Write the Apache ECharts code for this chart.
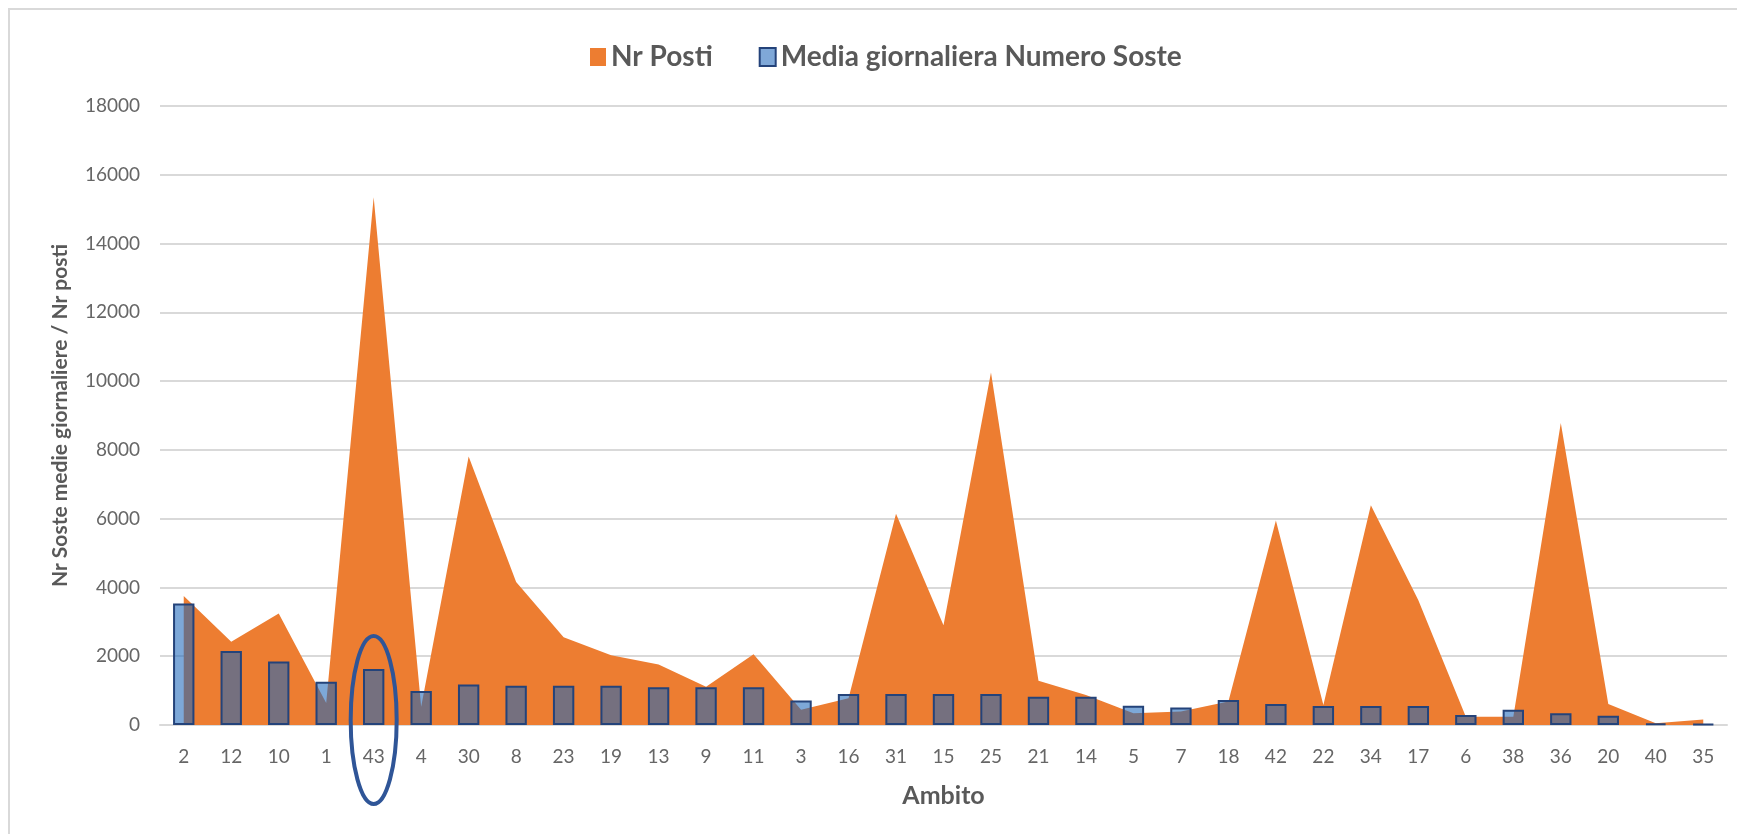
<!DOCTYPE html>
<html>
<head>
<meta charset="utf-8">
<script src="https://cdn.jsdelivr.net/npm/echarts@6/dist/echarts.min.js"></script>
<style>
html,body{margin:0;padding:0;background:#fff;}
#chart{width:1737px;height:834px;}
</style>
</head>
<body>
<div id="chart"></div>
<script>
var categories = ['2','12','10','1','43','4','30','8','23','19','13','9','11','3','16','31','15','25','21','14','5','7','18','42','22','34','17','6','38','36','20','40','35'];
var nrPosti = [3750, 2420, 3240, 640, 15350, 530, 7810, 4160, 2550, 2030, 1760, 1110, 2060, 440, 780, 6140, 2900, 10250, 1290, 870, 340, 390, 680, 5950, 580, 6390, 3630, 240, 240, 8780, 610, 50, 160];
var mediaSoste = [3530, 2150, 1850, 1260, 1625, 990, 1180, 1140, 1140, 1140, 1100, 1100, 1100, 710, 900, 900, 900, 900, 820, 820, 560, 510, 730, 610, 550, 550, 550, 290, 440, 340, 270, 50, 30];
var yTicks = [0, 2000, 4000, 6000, 8000, 10000, 12000, 14000, 16000, 18000];
var highlighted = '43';

var FONT = 'Lato, "Open Sans", "Liberation Sans", sans-serif';
var chart = echarts.init(document.getElementById('chart'), null, {renderer: 'canvas'});

var option = {
  backgroundColor: '#ffffff',
  animation: false,
  textStyle: {fontFamily: FONT},
  legend: {
    top: 38,
    left: 585,
    itemGap: 46,
    itemWidth: 16,
    itemHeight: 18,
    textStyle: {fontFamily: FONT, fontSize: 28, fontWeight: 'bold', color: '#595959'},
    data: [
      {name: 'Nr Posti', icon: 'rect', itemStyle: {color: '#ED7D31'}},
      {name: 'Media giornaliera Numero Soste', icon: 'rect', itemStyle: {color: '#7FA8D8', borderColor: '#24437A', borderWidth: 2}}
    ]
  },
  grid: {left: 160, right: 10, top: 106, bottom: 109, containLabel: false},
  xAxis: {
    type: 'category',
    data: categories,
    boundaryGap: true,
    name: 'Ambito',
    nameLocation: 'middle',
    nameGap: 58,
    nameTextStyle: {fontFamily: FONT, fontSize: 25, fontWeight: 'bold', color: '#595959'},
    axisLine: {show: true, lineStyle: {color: '#D9D9D9', width: 2}},
    axisTick: {show: false},
    axisLabel: {fontFamily: FONT, fontSize: 19, color: '#666666', margin: 22, interval: 0}
  },
  yAxis: {
    type: 'value',
    min: yTicks[0],
    max: yTicks[yTicks.length - 1],
    interval: yTicks[1] - yTicks[0],
    name: 'Nr Soste medie giornaliere / Nr posti',
    nameLocation: 'middle',
    nameGap: 89,
    nameTextStyle: {fontFamily: FONT, fontSize: 21, fontWeight: 'bold', color: '#595959'},
    axisLine: {show: false},
    axisTick: {show: false},
    axisLabel: {fontFamily: FONT, fontSize: 19, color: '#666666', margin: 20, formatter: function (v) { return String(v); }},
    splitLine: {lineStyle: {color: '#D9D9D9', width: 2}}
  },
  series: [
    {
      name: 'Nr Posti',
      type: 'line',
      data: nrPosti,
      showSymbol: false,
      symbol: 'none',
      lineStyle: {width: 0, color: '#ED7D31'},
      itemStyle: {color: '#ED7D31'},
      areaStyle: {color: '#ED7D31', opacity: 1},
      z: 2
    },
    {
      name: 'Media giornaliera Numero Soste',
      type: 'bar',
      data: mediaSoste,
      barWidth: '45%',
      itemStyle: {color: 'rgba(27,102,187,0.57)', borderColor: '#24437A', borderWidth: 2},
      z: 3
    }
  ]
};
chart.setOption(option);

// frame lines and highlight ellipse
var cx = chart.convertToPixel({xAxisIndex: 0}, highlighted);
var y0 = chart.convertToPixel({yAxisIndex: 0}, 0);
chart.setOption({
  graphic: [
    {type: 'rect', shape: {x: 9, y: 9, width: 1900, height: 1000}, style: {fill: 'none', stroke: '#D9D9D9', lineWidth: 2}, silent: true},
    {type: 'ellipse', shape: {cx: cx, cy: y0 - 5, rx: 23, ry: 84}, style: {fill: 'none', stroke: '#2F5597', lineWidth: 4}, z: 100, silent: true}
  ]
});
</script>
</body>
</html>
